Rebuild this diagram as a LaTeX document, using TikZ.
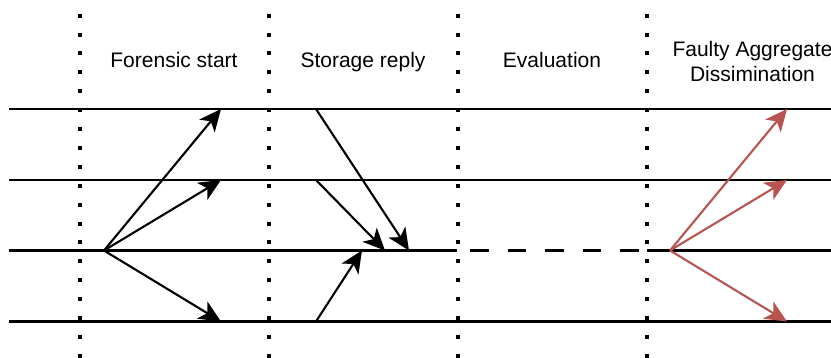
\documentclass[tikz,border=0pt]{standalone}
\usepackage{fontspec}
\setmainfont{Liberation Sans}
\usetikzlibrary{arrows.meta}
\definecolor{faultred}{HTML}{B85450}
\begin{document}
\begin{tikzpicture}[x=1pt,y=-1pt,
  lane/.style={line width=2.2pt},
  idle/.style={line width=2.2pt, dash pattern=on 18.5pt off 19pt},
  phaseline/.style={line width=4pt, dash pattern=on 4pt off 14.9pt},
  msg/.style={line width=2.1pt, -{Stealth[length=22pt,width=20pt,inset=6pt]}},
  faulty/.style={msg, color=faultred},
  phase/.style={font=\fontsize{21}{25}\selectfont, inner sep=0pt},
  ]
\useasboundingbox (0,0) rectangle (831,358);

% participant lanes
\coordinate (L1w) at (9,109);     \coordinate (L1e) at (831,109);
\coordinate (L2w) at (9,180);     \coordinate (L2e) at (831,180);
\coordinate (L3w) at (9,250.5);   \coordinate (L3m) at (457,250.5);
\coordinate (L3n) at (647,250.5); \coordinate (L3e) at (831,250.5);
\coordinate (L4w) at (9,321.5);   \coordinate (L4e) at (831,321.5);
\coordinate (D1) at (470,250.5);  \coordinate (D2) at (638.5,250.5);

\draw[lane] (L1w) -- (L1e);
\draw[lane] (L2w) -- (L2e);
\draw[lane] (L3w) -- (L3m);
\draw[lane] (L3n) -- (L3e);
\draw[lane] (L4w) -- (L4e);
\draw[idle] (D1) -- (D2);

% phase separators
\foreach \x/\n in {80/a,269/b,457.5/c,646.5/d}{
  \coordinate (P\n top) at (\x,13.7);
  \coordinate (P\n bot) at (\x,358);
  \draw[phaseline] (P\n top) -- (P\n bot);
}

% phase titles
\node[phase, anchor=base] (t1) at (174,68) {Forensic start};
\node[phase, anchor=base] (t2) at (363,68) {Storage reply};
\node[phase, anchor=base] (t3) at (552,68) {Evaluation};
\node[phase, align=center] (t4) at (752.5,61.6) {Faulty Aggregate\\Dissimination};

% forensic start
\coordinate (F0) at (104,250.5);
\coordinate (F1) at (221,109);
\coordinate (F2) at (221,180);
\coordinate (F3) at (221,321.5);
\draw[msg] (F0) -- (F1);
\draw[msg] (F0) -- (F2);
\draw[msg] (F0) -- (F3);

% storage replies
\coordinate (S1) at (316,109);   \coordinate (S1t) at (409,250.5);
\coordinate (S2) at (316,180);   \coordinate (S2t) at (385,250.5);
\coordinate (S3) at (316,321.5); \coordinate (S3t) at (362,250.5);
\draw[msg] (S1) -- (S1t);
\draw[msg] (S2) -- (S2t);
\draw[msg] (S3) -- (S3t);

% faulty aggregate dissemination
\coordinate (R0) at (670,250.5);
\coordinate (R1) at (787,109);
\coordinate (R2) at (787,180);
\coordinate (R3) at (787,321.5);
\draw[faulty] (R0) -- (R1);
\draw[faulty] (R0) -- (R2);
\draw[faulty] (R0) -- (R3);
\end{tikzpicture}
\end{document}
